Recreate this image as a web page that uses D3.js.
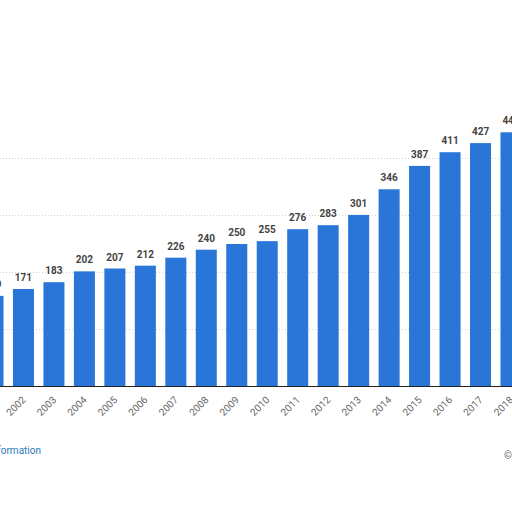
<!DOCTYPE html>
<html><head><meta charset="utf-8">
<script src="https://cdn.jsdelivr.net/npm/d3@7"></script>
<style>body{margin:0;background:#fff}</style>
</head><body>
<div id="chart"></div>
<script>
// Chart data
var years = ["2001","2002","2003","2004","2005","2006","2007","2008","2009","2010","2011","2012","2013","2014","2015","2016","2017","2018"];
var values = [159,171,183,202,207,212,226,240,250,255,276,283,301,346,387,411,427,446];
var gridTicks = [100,200,300,400];

var width = 512, height = 512;
var svg = d3.select("#chart").append("svg")
  .attr("width", width).attr("height", height)
  .style("font-family", "Roboto, 'Open Sans', sans-serif");

// band scale placed so the first bar is cut off on the left edge
var step = 30.47;
var x = d3.scaleBand().domain(years)
  .range([-7 - step / 2, -7 - step / 2 + step * years.length])
  .paddingInner(0.31).paddingOuter(0.155);
var y = d3.scaleLinear().domain([0, 100]).range([386.5, 329.5]);

// dotted gridlines
svg.selectAll(".grid").data(gridTicks).join("line")
  .attr("x1", 0).attr("x2", width)
  .attr("y1", d => y(d)).attr("y2", d => y(d))
  .attr("stroke", "#d0d0d0").attr("stroke-dasharray", "1,2");

// bars
svg.selectAll(".bar").data(values).join("rect")
  .attr("x", (d, i) => x(years[i]))
  .attr("width", x.bandwidth())
  .attr("y", d => y(d))
  .attr("height", d => y(0) - y(d))
  .attr("fill", "#2a76d8");

// value labels
svg.selectAll(".val").data(values).join("text")
  .attr("x", (d, i) => x(years[i]) + x.bandwidth() / 2)
  .attr("y", d => y(d) - 8)
  .attr("text-anchor", "middle")
  .attr("font-size", 10).attr("font-weight", "bold")
  .attr("fill", "#444")
  .text(d => d);

// baseline
svg.append("line").attr("x1", 0).attr("x2", width)
  .attr("y1", y(0)).attr("y2", y(0))
  .attr("stroke", "#222").attr("stroke-width", 1);

// rotated year labels
svg.selectAll(".yr").data(years).join("text")
  .attr("transform", d => "translate(" + (x(d) + x.bandwidth() / 2 + 3) + "," + (y(0) + 14) + ") rotate(-45)")
  .attr("text-anchor", "end")
  .attr("font-size", 10).attr("fill", "#666")
  .text(d => d);

// footer texts
svg.append("text").attr("x", 41).attr("y", 454).attr("text-anchor", "end")
  .attr("font-size", 10).attr("fill", "#2a7ab8").text("Additional Information");
svg.append("text").attr("x", 504).attr("y", 459)
  .attr("font-size", 10).attr("fill", "#666").text("© Statista");
</script>
</body></html>
